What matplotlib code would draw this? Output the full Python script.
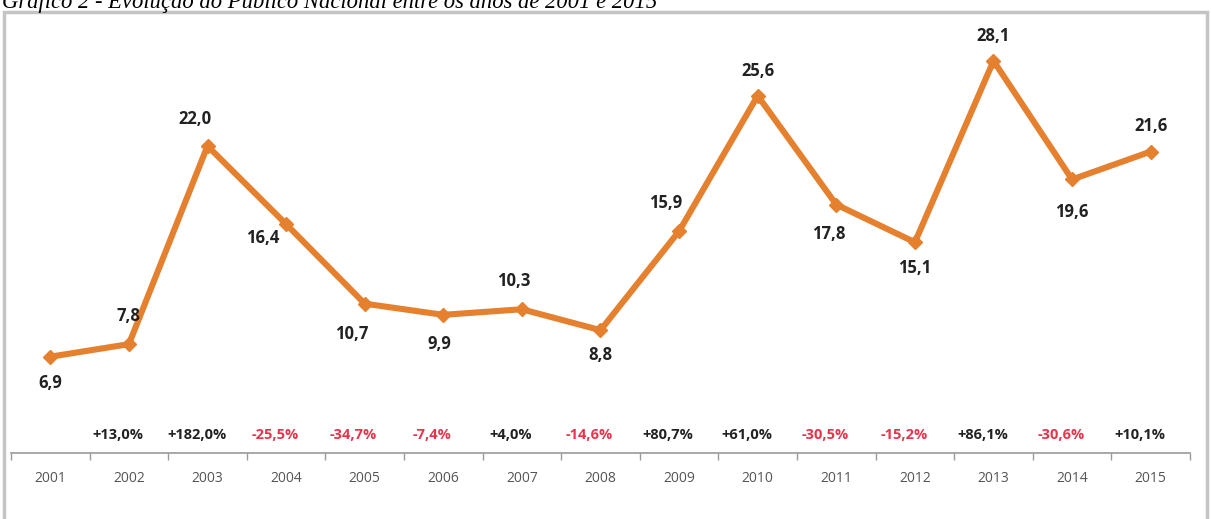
import matplotlib.pyplot as plt
from matplotlib.patches import Rectangle

anos = ["2001", "2002", "2003", "2004", "2005", "2006", "2007", "2008",
        "2009", "2010", "2011", "2012", "2013", "2014", "2015"]
publico = [6.9, 7.8, 22.0, 16.4, 10.7, 9.9, 10.3, 8.8, 15.9, 25.6, 17.8, 15.1, 28.1, 19.6, 21.6]
variacao = [None, 13.0, 182.0, -25.5, -34.7, -7.4, 4.0, -14.6, 80.7, 61.0,
            -30.5, -15.2, 86.1, -30.6, 10.1]

# onde fica o rotulo de cada ponto (pixels, relativo ao ponto)
desloc = [(0, -26), (0, 28), (-13, 27), (-23, -14), (-13, -30), (-4, -29), (-8, 28),
          (0, -25), (-13, 28), (0, 25), (-8, -29), (0, -26), (0, 25), (0, -33), (0, 26)]

laranja = "#E5802F"
vermelho = "#E8334A"
W, H = 1211, 519

plt.rcParams["font.family"] = ["Open Sans", "DejaVu Sans"]

fig = plt.figure(figsize=(W / 100, H / 100), dpi=100)
ax = fig.add_axes([11 / W, 66 / H, 1179 / W, 441 / H])

x = list(range(len(anos)))
ax.plot(x, publico, color=laranja, lw=4.4, marker="D", ms=7.5, zorder=3)

for i, v in enumerate(publico):
    ax.annotate(f"{v:.1f}".replace(".", ","), (i, v), xytext=desloc[i],
                textcoords="offset pixels", ha="center", va="center",
                fontsize=12, fontweight="bold", color="#222222")

for i, p in enumerate(variacao):
    if p is None:
        continue
    txt = f"{p:+.1f}%".replace(".", ",")
    ax.annotate(txt, (i, 0), xytext=(-11, 18), textcoords="offset pixels",
                ha="center", va="center", fontsize=10.5, fontweight="bold",
                color=vermelho if p < 0 else "#222222")

ax.set_xlim(-0.5, len(anos) - 0.5)
ax.set_ylim(0, 31.6)
for s in ["top", "left", "right"]:
    ax.spines[s].set_visible(False)
ax.spines["bottom"].set_color("#9a9a9a")
ax.spines["bottom"].set_linewidth(1.2)
ax.set_yticks([])

ax.set_xticks([i - 0.5 for i in range(len(anos) + 1)])
ax.set_xticklabels([])
ax.tick_params(axis="x", which="major", length=5, color="#9a9a9a", width=1)
ax.set_xticks(x, minor=True)
ax.set_xticklabels(anos, minor=True)
ax.tick_params(axis="x", which="minor", length=0, pad=13, labelsize=10, labelcolor="#555555")

fig.patches.append(Rectangle((4 / W, -0.05), 1203 / W, (H - 12) / H + 0.05,
                             transform=fig.transFigure, fill=False, ec="#c4c4c4", lw=2.5))
fig.text(2 / W, 1 - 8 / H, "Gráfico 2 - Evolução do Público Nacional entre os anos de 2001 e 2015",
         family="Liberation Serif", style="italic", fontsize=16.3, va="baseline")

fig.savefig("out.png", dpi=100)
